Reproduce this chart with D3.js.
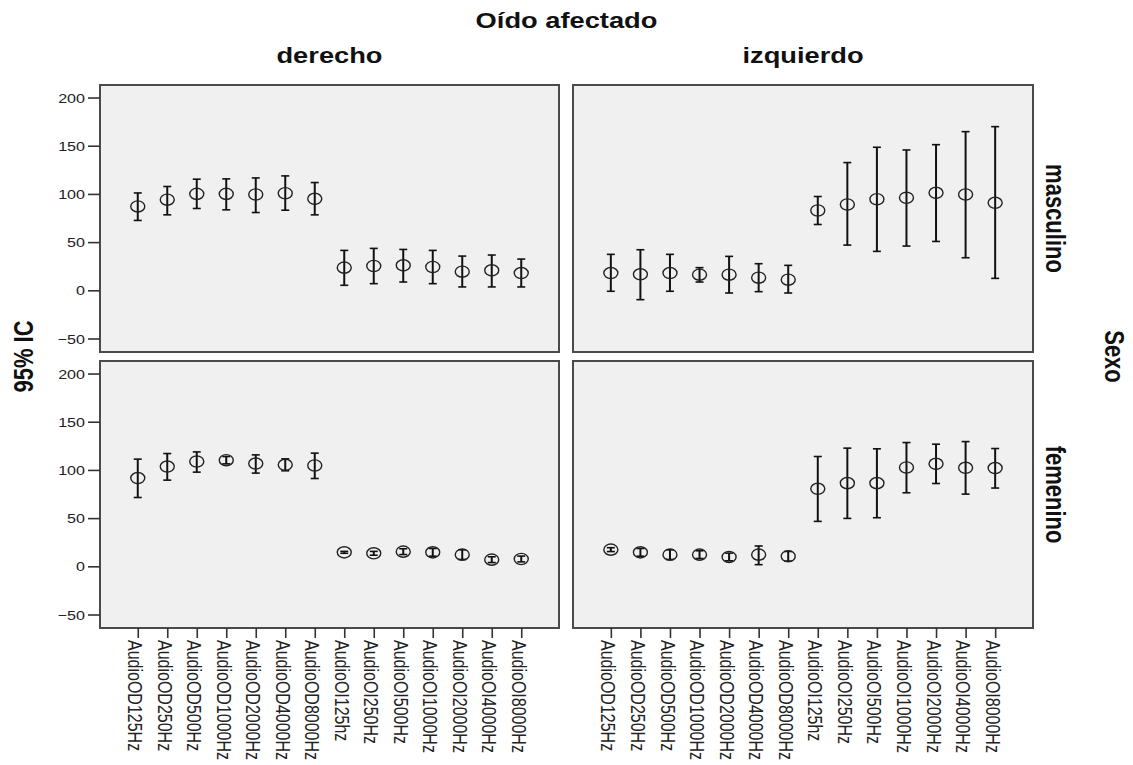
<!DOCTYPE html>
<html>
<head>
<meta charset="utf-8">
<script src="https://cdn.jsdelivr.net/npm/d3@7/dist/d3.min.js"></script>
<style>
  html, body { margin: 0; padding: 0; background: #ffffff; }
  svg { display: block; }
</style>
</head>
<body>
<svg id="chart" width="1133" height="765"></svg>
<script>
// ---------------- DATA ----------------
const categories = ["AudioOD125Hz","AudioOD250Hz","AudioOD500Hz","AudioOD1000Hz","AudioOD2000Hz","AudioOD4000Hz","AudioOD8000Hz",
                    "AudioOI125hz","AudioOI250Hz","AudioOI500Hz","AudioOI1000Hz","AudioOI2000Hz","AudioOI4000Hz","AudioOI8000Hz"];
const columnLabels = ["derecho", "izquierdo"];
const rowLabels = ["masculino", "femenino"];
const yTicks = [-50, 0, 50, 100, 150, 200];

// masculino / derecho
const mascDerMean = [87, 94, 100, 100, 99.4, 100.7, 94.9, 23.5, 25.2, 25.9, 24.2, 19.3, 20.7, 17.9];
const mascDerLow  = [72.5, 78.3, 84.9, 83.5, 80.7, 83.1, 78.3, 5.2, 6.9, 8.6, 6.9, 3.5, 3.5, 3.5];
const mascDerHigh = [101, 107.7, 115.3, 115.6, 116.6, 118.7, 111.8, 41.4, 43.5, 42.4, 41.4, 35.5, 36.6, 32.4];
// masculino / izquierdo
const mascIzqMean = [17.9, 16.6, 17.9, 16.2, 16.2, 13.1, 11.0, 82.8, 89, 94.5, 96, 101.1, 99.4, 90.8];
const mascIzqLow  = [-1, -9.7, -1, 8.6, -2.8, -1.4, -2.8, 68.3, 46.9, 40.4, 45.9, 50.7, 33.8, 12.4];
const mascIzqHigh = [37.3, 42.1, 37.3, 23.5, 35.2, 27.6, 25.9, 97.3, 132.5, 148.4, 145.6, 151.1, 164.6, 169.8];
// femenino / derecho
const femDerMean = [91.5, 103.5, 108.7, 110.1, 106.6, 105.3, 104.6, 14.5, 13.5, 15.2, 14.5, 12.1, 6.9, 7.6];
const femDerLow  = [71.4, 89.4, 97.7, 106.3, 96.7, 99.1, 91.1, 13.5, 11.5, 12.2, 10.5, 7.1, 3.9, 4.6];
const femDerHigh = [111.2, 117, 118.7, 113.9, 115.6, 111.5, 117.4, 15.5, 15.5, 18.2, 18.5, 17.1, 9.9, 10.6];
// femenino / izquierdo
const femIzqMean = [17.3, 14.5, 12.1, 12.1, 9.7, 12.1, 10.4, 80.4, 86.3, 86.3, 102.5, 106.3, 102.2, 101.9];
const femIzqLow  = [15.3, 10.5, 7.1, 8.1, 5.7, 1.7, 5.4, 46.6, 49.7, 50.4, 76.3, 85.9, 74.9, 81.2];
const femIzqHigh = [19.3, 18.5, 17.1, 16.1, 13.7, 21.1, 15.4, 113.9, 122.6, 121.9, 128.4, 126.7, 129.4, 122.2];

const panelsData = [
  {row: 0, col: 0, mean: mascDerMean, low: mascDerLow, high: mascDerHigh},
  {row: 0, col: 1, mean: mascIzqMean, low: mascIzqLow, high: mascIzqHigh},
  {row: 1, col: 0, mean: femDerMean, low: femDerLow, high: femDerHigh},
  {row: 1, col: 1, mean: femIzqMean, low: femIzqLow, high: femIzqHigh}
];

// ---------------- LAYOUT ----------------
const SX = 1.24; // horizontal stretch of the original rendering
const colX = [[100, 559], [573, 1033]];
const rowY = [[85, 352], [361, 628]];
const svg = d3.select("#chart");
svg.append("rect").attr("width", 1133).attr("height", 765).attr("fill", "#fff");

const titleFont = "'Liberation Sans', Arial, sans-serif";

function xScale(col) {
  return d3.scalePoint().domain(categories).range(colX[col]).padding(1.28);
}
function yScale(row) {
  return d3.scaleLinear().domain([-64, 213]).range([rowY[row][1], rowY[row][0]]);
}

// panels
for (let r = 0; r < 2; r++) {
  for (let c = 0; c < 2; c++) {
    svg.append("rect")
      .attr("x", colX[c][0]).attr("y", rowY[r][0])
      .attr("width", colX[c][1] - colX[c][0])
      .attr("height", rowY[r][1] - rowY[r][0])
      .attr("fill", "#f0f0f0")
      .attr("stroke", "#4a4a4a").attr("stroke-width", 2);
  }
}

// y axes
for (let r = 0; r < 2; r++) {
  const g = svg.append("g").attr("transform", `translate(${colX[0][0]},0)`)
    .call(d3.axisLeft(yScale(r)).tickValues(yTicks).tickSize(12).tickPadding(3));
  g.select(".domain").remove();
  g.selectAll(".tick line").attr("stroke", "#333").attr("stroke-width", 1.6);
  g.selectAll(".tick text")
    .attr("x", 0).attr("dy", "0.36em")
    .attr("transform", `translate(-15,0) scale(${SX},1)`)
    .style("font-family", titleFont).style("font-size", "13px").attr("fill", "#222");
}

// x axes
for (let c = 0; c < 2; c++) {
  const g = svg.append("g").attr("transform", `translate(0,${rowY[1][1]})`)
    .call(d3.axisBottom(xScale(c)).tickSize(10));
  g.select(".domain").remove();
  g.selectAll(".tick line").attr("stroke", "#333").attr("stroke-width", 1.6);
  g.selectAll(".tick text")
    .attr("x", 0).attr("y", 0).attr("dy", "0.4em")
    .attr("transform", `translate(-2,12) scale(${SX},1) rotate(90)`)
    .style("text-anchor", "start")
    .style("font-family", titleFont).style("font-size", "16px").attr("fill", "#222");
}

// error bars
panelsData.forEach(p => {
  const x = xScale(p.col), y = yScale(p.row);
  const g = svg.append("g");
  const items = categories.map((k, i) => ({k, m: p.mean[i], lo: p.low[i], hi: p.high[i]}));
  const e = g.selectAll("g.eb").data(items).enter().append("g").attr("class", "eb");
  e.append("line").attr("x1", d => x(d.k)).attr("x2", d => x(d.k))
    .attr("y1", d => y(d.lo)).attr("y2", d => y(d.hi))
    .attr("stroke", "#111").attr("stroke-width", 2);
  e.append("line").attr("x1", d => x(d.k) - 4).attr("x2", d => x(d.k) + 4)
    .attr("y1", d => y(d.hi)).attr("y2", d => y(d.hi))
    .attr("stroke", "#111").attr("stroke-width", 1.6);
  e.append("line").attr("x1", d => x(d.k) - 4).attr("x2", d => x(d.k) + 4)
    .attr("y1", d => y(d.lo)).attr("y2", d => y(d.lo))
    .attr("stroke", "#111").attr("stroke-width", 1.6);
  e.append("ellipse").attr("cx", d => x(d.k)).attr("cy", d => y(d.m))
    .attr("rx", 7).attr("ry", 5.6)
    .attr("fill", "none").attr("stroke", "#222").attr("stroke-width", 1.4);
});

// titles
function hText(txt, cx, baseline) {
  svg.append("text").text(txt)
    .attr("transform", `translate(${cx},${baseline}) scale(${SX},1)`)
    .attr("text-anchor", "middle")
    .style("font-family", titleFont).style("font-weight", "bold").style("font-size", "22px")
    .attr("fill", "#111");
}
function vText(txt, bx, cy, angle) {
  svg.append("text").text(txt)
    .attr("transform", `translate(${bx},${cy}) scale(${SX},1) rotate(${angle})`)
    .attr("text-anchor", "middle")
    .style("font-family", titleFont).style("font-weight", "bold").style("font-size", "22px")
    .attr("fill", "#111");
}
hText("Oído afectado", (colX[0][0] + colX[1][1]) / 2, 28);
columnLabels.forEach((t, c) => hText(t, (colX[c][0] + colX[c][1]) / 2, 63));
rowLabels.forEach((t, r) => vText(t, 1046, (rowY[r][0] + rowY[r][1]) / 2, 90));
vText("Sexo", 1105, (rowY[0][0] + rowY[1][1]) / 2, 90);
vText("95% IC", 33, (rowY[0][0] + rowY[1][1]) / 2, -90);
</script>
</body>
</html>
